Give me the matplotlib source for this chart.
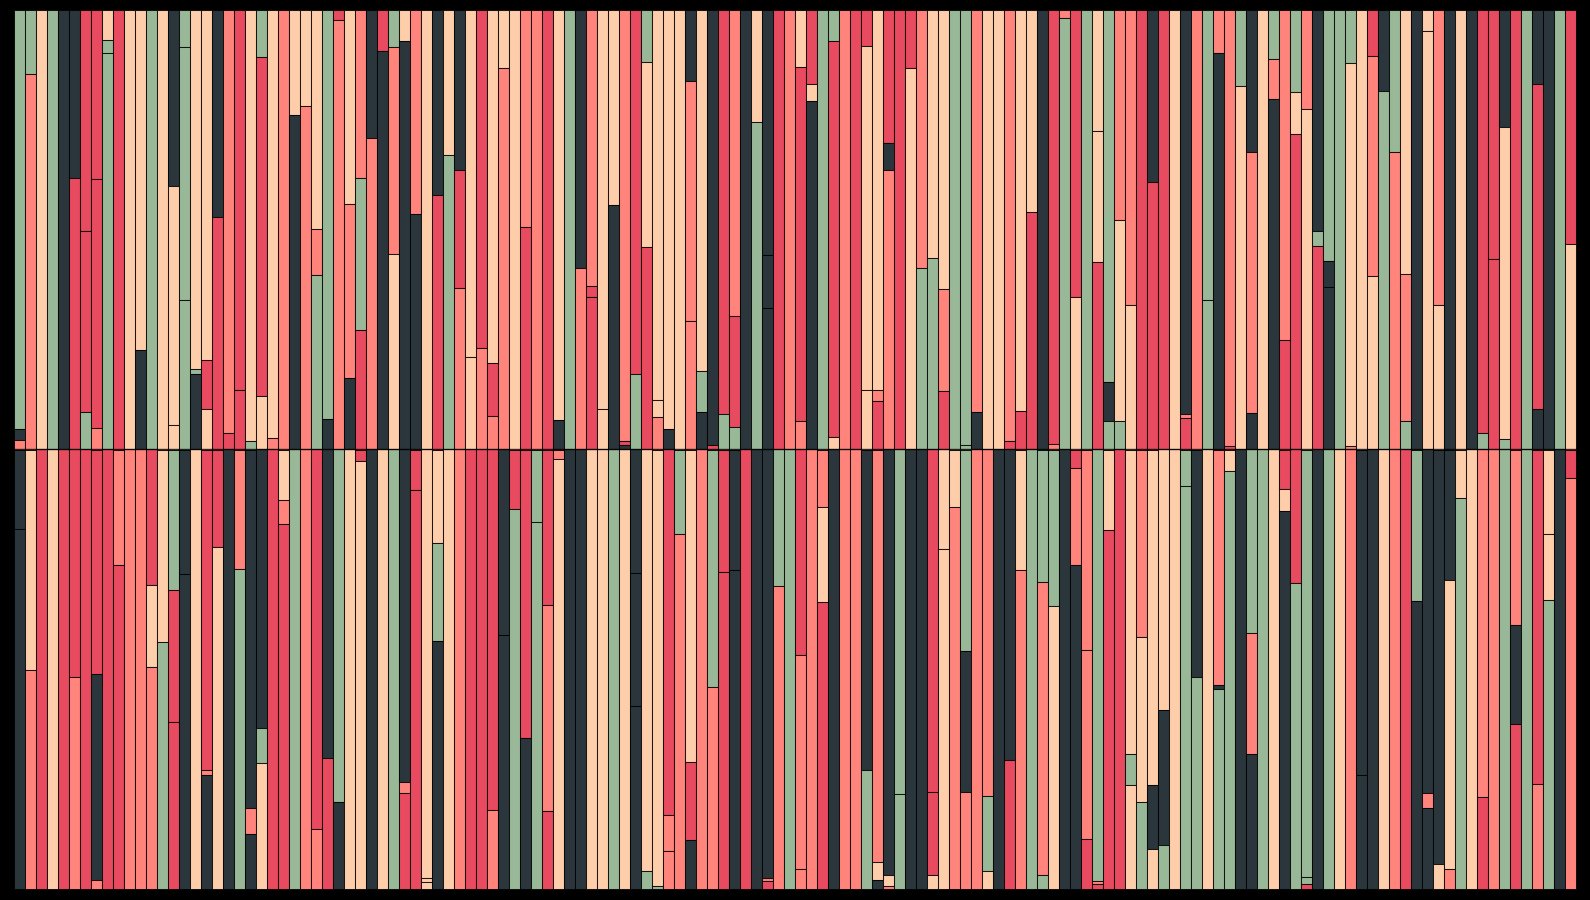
import matplotlib
matplotlib.use("Agg")
import matplotlib.pyplot as plt

palette = {
    "D": "#2A363B",
    "R": "#E84A5F",
    "S": "#FF847C",
    "P": "#FECEAB",
    "G": "#99B898",
}

# segments listed from top to bottom within each bar
top_colors = [
    "GDS", "GS", "P", "G", "D", "DR", "RRG", "RRS", "PGG", "R",
    "P", "PD", "G", "P", "DPP", "GGG", "PGD", "PRP", "DR", "SR",
    "RR", "PG", "GRP", "PS", "S", "PD", "PS", "PSG", "GD", "RS",
    "PSD", "SGR", "DS", "RD", "GSP", "PD", "SD", "P", "DR", "PG",
    "DRS", "PP", "RS", "PRS", "PS", "P", "SR", "S", "R", "PD",
    "G", "DS", "SRR", "PP", "PD", "SRD", "RG", "GPR", "PPS", "PD",
    "P", "DSS", "PGD", "DR", "RG", "SRG", "D", "PG", "DDD", "R",
    "S", "PRS", "RPD", "G", "GRP", "S", "R", "RPP", "PSR", "RDS",
    "R", "RP", "SG", "PG", "PSR", "G", "GG", "SD", "P", "P",
    "SR", "PR", "PR", "D", "RS", "SG", "RP", "G", "PPR", "GDG",
    "SPG", "SP", "R", "DR", "R", "P", "DSR", "S", "GG", "SD",
    "SR", "GP", "DSD", "P", "GSD", "SR", "GPR", "SP", "DGR", "GDD",
    "G", "GPS", "P", "RSP", "DG", "GS", "PSG", "D", "PP", "SP",
    "D", "P", "D", "RG", "RR", "DPG", "R", "G", "DRD", "D",
    "G", "RP",
]
top_fracs = [
    [.953, .026, .021], [.146, .854], [1], [1], [1], [.382, .618], [.502, .412, .086], [.383, .569, .048], [.068, .029, .903], [1],
    [1], [.774, .226], [1], [1], [.401, .543, .056], [.084, .575, .341], [.816, .013, .171], [.797, .110, .093], [.471, .529], [.962, .038],
    [.865, .135], [.98, .02], [.107, .771, .122], [.973, .027], [1], [.238, .762], [.217, .783], [.497, .105, .398], [.931, .069], [.021, .979],
    [.441, .396, .163], [.382, .346, .272], [.29, .71], [.092, .908], [.084, .471, .445], [.071, .929], [.463, .537], [1], [.421, .579], [.329, .671],
    [.363, .269, .368], [.79, .21], [.77, .23], [.803, .120, .077], [.131, .869], [1], [.494, .506], [1], [1], [.932, .068],
    [1], [.586, .414], [.627, .025, .348], [.907, .093], [.444, .556], [.98, .01, .01], [.827, .173], [.118, .421, .461], [.888, .037, .075], [.953, .047],
    [1], [.162, .546, .292], [.821, .093, .086], [.99, .01], [.92, .08], [.697, .251, .052], [1], [.254, .746], [.557, .120, .323], [1],
    [1], [.128, .807, .065], [.167, .039, .794], [1], [.071, .901, .028], [1], [1], [.082, .782, .136], [.864, .025, .111], [.303, .060, .637],
    [1], [.132, .868], [.586, .414], [.565, .435], [.634, .233, .133], [1], [.99, .01], [.915, .085], [1], [1],
    [.98, .02], [.912, .088], [.46, .54], [1], [.987, .013], [.018, .982], [.652, .348], [1], [.275, .297, .428], [.846, .088, .066],
    [.477, .458, .065], [.671, .329], [1], [.39, .61], [1], [1], [.92, .008, .072], [1], [.659, .341], [.097, .903],
    [.992, .008], [.173, .827], [.323, .593, .084], [1], [.111, .092, .797], [.75, .25], [.186, .095, .719], [.224, .776], [.502, .034, .464], [.57, .059, .371],
    [1], [.119, .872, .009], [1], [.103, .501, .396], [.183, .817], [.322, .678], [.6, .336, .064], [1], [.046, .954], [.672, .328],
    [1], [1], [1], [.962, .038], [.567, .433], [.265, .71, .025], [1], [1], [.167, .741, .092], [1],
    [1], [.533, .467],
]

bottom_colors = [
    "DD", "PS", "R", "P", "R", "RS", "R", "RDS", "R", "SR",
    "S", "S", "RPS", "PG", "GRR", "DD", "P", "RSD", "RP", "D",
    "SG", "DSD", "DGP", "R", "PSR", "G", "S", "RS", "DR", "GD",
    "P", "RP", "D", "P", "G", "DSR", "RR", "PPP", "PGD", "P",
    "S", "R", "R", "RS", "DD", "RG", "RD", "GG", "RSR", "SP",
    "D", "D", "P", "P", "G", "P", "DDD", "PG", "PG", "RSS",
    "GS", "PRD", "S", "GS", "RR", "DD", "R", "D", "DSR", "GS",
    "G", "RSS", "S", "SPR", "D", "S", "S", "DG", "SPD", "DPS",
    "GG", "D", "D", "RRP", "PP", "PS", "GDS", "S", "SGP", "D",
    "DR", "PS", "G", "GSG", "GP", "D", "RSD", "SSR", "GSR", "PR",
    "R", "PGP", "SPG", "PDP", "PDG", "P", "GG", "DG", "P", "SDG",
    "PG", "D", "GSD", "G", "P", "RPD", "RG", "GGR", "D", "G",
    "P", "S", "DD", "D", "P", "S", "R", "GD", "DSD", "DP",
    "DPS", "PG", "P", "SR", "S", "G", "SDR", "G", "RS", "PPG",
    "D", "RS",
]
bottom_fracs = [
    [.182, .818], [.502, .498], [1], [1], [1], [.518, .482], [1], [.512, .468, .02], [1], [.263, .737],
    [1], [1], [.308, .188, .504], [.438, .562], [.319, .301, .38], [.284, .716], [1], [.729, .013, .258], [.221, .779], [1],
    [.272, .728], [.816, .06, .124], [.634, .08, .286], [1], [.114, .055, .831], [1], [1], [.865, .135], [.702, .298], [.803, .197],
    [1], [.026, .974], [1], [1], [1], [.758, .024, .218], [.092, .908], [.976, .01, .014], [.214, .221, .565], [1],
    [1], [1], [1], [.82, .18], [.422, .578], [.135, .865], [.656, .344], [.164, .836], [.353, .471, .176], [.022, .978],
    [1], [1], [1], [1], [1], [1], [.282, .302, .416], [.961, .039], [.993, .007], [.833, .081, .086],
    [.193, .807], [.711, .178, .111], [1], [.54, .46], [.28, .72], [.275, .725], [1], [1], [.976, .007, .017], [.312, .688],
    [1], [.467, .488, .045], [1], [.132, .216, .652], [1], [1], [1], [.729, .271], [.939, .042, .019], [.97, .023, .007],
    [.784, .216], [1], [1], [.779, .191, .03], [.226, .774], [.132, .868], [.46, .32, .22], [1], [.79, .171, .039], [1],
    [.706, .294], [.275, .725], [1], [.301, .667, .032], [.357, .643], [1], [.042, .221, .737], [.456, .43, .114], [.983, .007, .01], [.183, .817],
    [1], [.693, .071, .236], [.427, .375, .198], [.765, .144, .091], [.593, .308, .099], [1], [.082, .918], [.519, .481], [1], [.536, .01, .454],
    [.048, .952], [1], [.418, .275, .307], [1], [1], [.089, .051, .86], [.303, .697], [.973, .017, .01], [1], [1],
    [1], [1], [.742, .258], [1], [1], [1], [1], [.344, .656], [.782, .035, .183], [.945, .055],
    [.297, .658, .045], [.11, .89], [1], [.792, .208], [1], [1], [.399, .226, .375], [1], [.761, .239], [.193, .15, .657],
    [1], [.064, .936],
]

fig = plt.figure(figsize=(15.9, 9), dpi=100, facecolor="black")
left, width = 14 / 1590, (1576 - 14) / 1590
ax_top = fig.add_axes([left, 1 - 449.5 / 900, width, (449.5 - 10.3) / 900])
ax_bot = fig.add_axes([left, 1 - 888.6 / 900, width, (888.6 - 449.5) / 900])


def draw(ax, colors, fracs):
    for i, (cs, fs) in enumerate(zip(colors, fracs)):
        total = sum(fs)
        top = 1.0
        for c, f in zip(cs, fs):
            h = f / total
            ax.bar(i, h, bottom=top - h, width=1.0, color=palette[c],
                   edgecolor=(0, 0, 0, 0.8), linewidth=0.75, clip_on=False)
            top -= h
    ax.set_xlim(-0.5, len(colors) - 0.5)
    ax.set_ylim(0, 1)
    ax.axis("off")


draw(ax_top, top_colors, top_fracs)
draw(ax_bot, bottom_colors, bottom_fracs)
ax_bot.axhline(1.0, color=(0, 0, 0, 0.8), linewidth=1.0, clip_on=False, zorder=5)

fig.savefig("out.png", dpi=100, facecolor="black")
